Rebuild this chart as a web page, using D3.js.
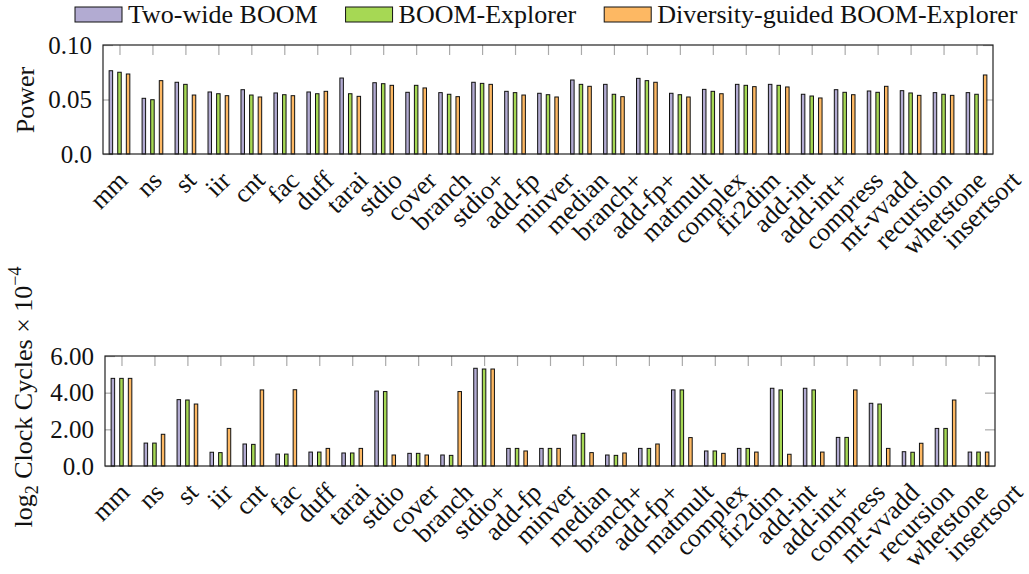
<!DOCTYPE html>
<html>
<head>
<meta charset="utf-8">
<script src="https://cdn.jsdelivr.net/npm/d3@7"></script>
<style>
    body { margin: 0; background: #fff; }
    svg, svg text { font-family: "Liberation Serif", "DejaVu Serif", serif !important; }
    text { fill: #111; }
    .tick line { stroke: #aaa; stroke-width: 1.2; }
    .frame { fill: none; stroke: #222; stroke-width: 1.2; }
    .bar { stroke: #111; stroke-width: 1; }
</style>
</head>
<body>
<script>
(function(){

    //benchmarks on the x axis
    var categories = ["mm", "ns", "st", "iir", "cnt", "fac", "duff", "tarai", "stdio", "cover",
        "branch", "stdio+", "add-fp", "minver", "median", "branch+", "add-fp+", "matmult",
        "complex", "fir2dim", "add-int", "add-int+", "compress", "mt-vvadd", "recursion",
        "whetstone", "insertsort"];

    var seriesNames = ["Two-wide BOOM", "BOOM-Explorer", "Diversity-guided BOOM-Explorer"];
    var seriesColors = ["#b2abd2", "#a6d854", "#fdb863"];

    //power values
    var powerTwoWide = [0.0764, 0.0511, 0.0658, 0.0569, 0.0590, 0.0560, 0.0569, 0.0697, 0.0654, 0.0566,
        0.0563, 0.0658, 0.0575, 0.0557, 0.0679, 0.0639, 0.0694, 0.0557, 0.0593, 0.0639,
        0.0639, 0.0548, 0.0590, 0.0578, 0.0581, 0.0563, 0.0563];
    var powerExplorer = [0.0750, 0.0498, 0.0639, 0.0553, 0.0541, 0.0544, 0.0553, 0.0553, 0.0645, 0.0630,
        0.0548, 0.0648, 0.0563, 0.0544, 0.0639, 0.0548, 0.0673, 0.0544, 0.0575, 0.0630,
        0.0630, 0.0532, 0.0566, 0.0566, 0.0560, 0.0548, 0.0548];
    var powerDiversity = [0.0734, 0.0673, 0.0541, 0.0535, 0.0523, 0.0535, 0.0575, 0.0529, 0.0630, 0.0606,
        0.0526, 0.0639, 0.0541, 0.0523, 0.0621, 0.0526, 0.0658, 0.0523, 0.0553, 0.0618,
        0.0615, 0.0514, 0.0544, 0.0621, 0.0538, 0.0538, 0.0725];

    //log2 clock cycles x 10^-4
    var cyclesTwoWide = [4.78, 1.25, 3.62, 0.75, 1.20, 0.65, 0.76, 0.71, 4.09, 0.69,
        0.60, 5.33, 0.96, 0.96, 1.69, 0.60, 0.96, 4.15, 0.82, 0.96,
        4.24, 4.24, 1.56, 3.42, 0.78, 2.05, 0.76];
    var cyclesExplorer = [4.78, 1.25, 3.60, 0.73, 1.18, 0.65, 0.76, 0.71, 4.06, 0.69,
        0.58, 5.29, 0.96, 0.96, 1.78, 0.58, 0.96, 4.15, 0.82, 0.96,
        4.15, 4.15, 1.56, 3.38, 0.75, 2.05, 0.76];
    var cyclesDiversity = [4.78, 1.73, 3.38, 2.05, 4.15, 4.16, 0.96, 0.96, 0.60, 0.60,
        4.06, 5.29, 0.82, 0.96, 0.73, 0.71, 1.20, 1.55, 0.69, 0.76,
        0.64, 0.76, 4.15, 0.96, 1.24, 3.60, 0.76];

    //y tick values and their printed labels
    var powerTicks = [0, 0.05, 0.10];
    var powerTickLabels = ["0.0", "0.05", "0.10"];
    var cycleTicks = [0, 2, 4, 6];
    var cycleTickLabels = ["0.0", "2.00", "4.00", "6.00"];

    var serif = "'Liberation Serif', 'DejaVu Serif', serif";

    var svg = d3.select("body")
        .append("svg")
        .attr("width", 1029)
        .attr("height", 574)
        .attr("font-family", serif);

    setLegend();

    setChart({
        left: 103, right: 993, top: 45, bottom: 154,
        values: [powerTwoWide, powerExplorer, powerDiversity],
        domain: [0, 0.10],
        ticks: powerTicks, tickLabels: powerTickLabels,
        title: "Power", titleX: 34, titleY: 100
    });

    setChart({
        left: 105, right: 995, top: 356, bottom: 466,
        values: [cyclesTwoWide, cyclesExplorer, cyclesDiversity],
        domain: [0, 6],
        ticks: cycleTicks, tickLabels: cycleTickLabels,
        title: "log2", titleX: 32, titleY: 397
    });

    function setLegend(){
        var x = 75;
        seriesNames.forEach(function(name, i){
            svg.append("rect")
                .attr("class", "bar")
                .attr("x", x)
                .attr("y", 7)
                .attr("width", 47)
                .attr("height", 15)
                .style("fill", seriesColors[i]);
            var label = svg.append("text")
                .attr("x", x + 53)
                .attr("y", 23)
                .style("font-family", serif)
                .style("font-size", "26px")
                .text(name);
            x = x + 53 + label.node().getComputedTextLength() + 28;
        });
    }

    function setChart(c){
        var g = svg.append("g");

        //group positions and series offsets inside a group
        var x0 = d3.scalePoint()
            .domain(categories)
            .range([c.left, c.right])
            .padding(0.5);
        var x1 = d3.scalePoint()
            .domain(d3.range(seriesNames.length))
            .range([-8.6, 8.6]);
        //tick labels drift a little wider than the bars
        var xLabel = d3.scalePoint()
            .domain(categories)
            .range([c.left + 26, c.left + 919]);

        var y = d3.scaleLinear()
            .domain(c.domain)
            .range([c.bottom, c.top]);

        //inner ticks: left, right and top
        g.append("g")
            .attr("transform", "translate(" + c.left + ",0)")
            .call(d3.axisLeft(y).tickValues(c.ticks).tickSize(-10).tickPadding(11)
                .tickFormat(function(d, i){ return c.tickLabels[i]; }))
            .call(function(a){ a.select(".domain").remove(); })
            .attr("font-family", serif)
            .selectAll("text")
            .style("font-family", serif)
            .style("font-size", "25px");

        g.append("g")
            .attr("transform", "translate(" + c.right + ",0)")
            .call(d3.axisRight(y).tickValues(c.ticks).tickSize(-10).tickFormat(""))
            .call(function(a){ a.select(".domain").remove(); });

        g.append("g")
            .attr("transform", "translate(0," + c.top + ")")
            .call(d3.axisTop(x0).tickSize(-10).tickFormat(""))
            .call(function(a){ a.select(".domain").remove(); });

        //bars
        c.values.forEach(function(vals, s){
            g.selectAll(".s" + s)
                .data(vals)
                .enter()
                .append("rect")
                .attr("class", "bar s" + s)
                .attr("x", function(d, i){ return x0(categories[i]) + x1(s) - 1.75; })
                .attr("width", 3.5)
                .attr("y", function(d){ return y(d); })
                .attr("height", function(d){ return y(0) - y(d); })
                .style("fill", seriesColors[s]);
        });

        //frame
        g.append("rect")
            .attr("class", "frame")
            .attr("x", c.left)
            .attr("y", c.top)
            .attr("width", c.right - c.left)
            .attr("height", c.bottom - c.top);

        //rotated benchmark names
        g.selectAll(".xlab")
            .data(categories)
            .enter()
            .append("text")
            .attr("class", "xlab")
            .attr("text-anchor", "end")
            .style("font-family", serif)
            .style("font-size", "26px")
            .attr("transform", function(d){
                return "translate(" + xLabel(d) + "," + (c.bottom + 28) + ") rotate(-45)";
            })
            .text(function(d){ return d; });

        //y title
        var title = g.append("text")
            .attr("text-anchor", "middle")
            .style("font-family", serif)
            .style("font-size", "26px")
            .attr("transform", "translate(" + c.titleX + "," + c.titleY + ") rotate(-90)");
        if (c.title == "Power"){
            title.text("Power");
        } else {
            title.append("tspan").text("log");
            title.append("tspan").attr("dy", 6).style("font-size", "18px").text("2");
            title.append("tspan").attr("dy", -6).text(" Clock Cycles \u00d7 10");
            title.append("tspan").attr("dy", -11).style("font-size", "18px").text("\u22124");
        }
    }

})();
</script>
</body>
</html>
